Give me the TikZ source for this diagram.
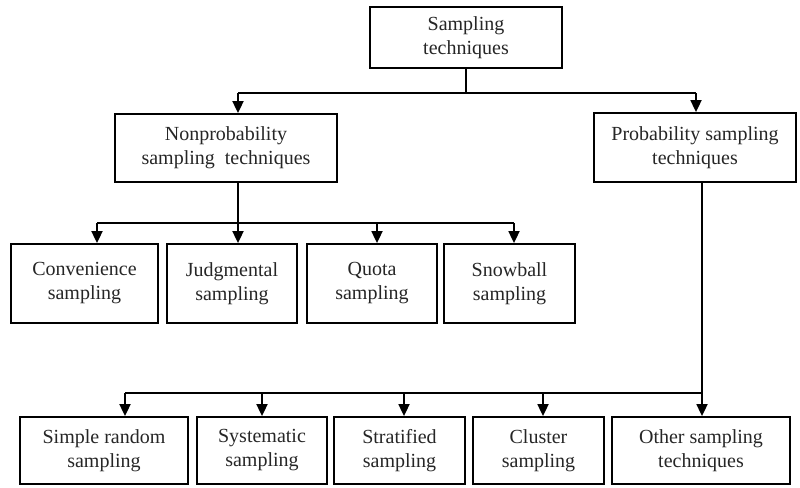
\documentclass[tikz,border=0pt]{standalone}
\usepackage{fontspec}
\setmainfont{Liberation Serif}
\usetikzlibrary{arrows.meta}
\begin{document}
\begin{tikzpicture}[x=1pt,y=-1pt,
  box/.style={draw=black, line width=1.8pt, fill=white, align=center,
    inner sep=0pt, font=\fontsize{20}{24}\selectfont, text=black!85},
  wire/.style={draw=black, line width=1.8pt},
  arr/.style={wire, -{Triangle[width=11pt,length=12pt]}}]
\useasboundingbox[fill=white] (0,0) rectangle (800,487);

% top level
\node[box, minimum width=192pt, minimum height=61pt] (top) at (466,37.5) {Sampling\\techniques};

% second level
\node[box, minimum width=222pt, minimum height=68pt] (non) at (226,148) {Nonprobability\\sampling\ \ techniques};
\node[box, minimum width=202pt, minimum height=69pt] (prob) at (695,147.5) {Probability sampling\\techniques};

% nonprobability methods
\node[box, minimum width=147pt, minimum height=79pt] (conv) at (84.5,283.5) {Convenience\\sampling};
\node[box, minimum width=130pt, minimum height=79pt] (judg) at (232,283.5) {Judgmental\\sampling};
\node[box, minimum width=130pt, minimum height=79pt] (quota) at (372,283.5) {Quota\\sampling};
\node[box, minimum width=131pt, minimum height=79pt] (snow) at (509.5,283.5) {Snowball\\sampling};

% probability methods
\node[box, minimum width=168pt, minimum height=67pt] (simple) at (104,450.5) {Simple random\\sampling};
\node[box, minimum width=130pt, minimum height=67pt] (syst) at (262,450.5) {Systematic\\sampling};
\node[box, minimum width=131pt, minimum height=67pt] (strat) at (399.5,450.5) {Stratified\\sampling};
\node[box, minimum width=131pt, minimum height=67pt] (clust) at (538.5,450.5) {Cluster\\sampling};
\node[box, minimum width=178pt, minimum height=67pt] (other) at (701,450.5) {Other sampling\\techniques};

% bus lines
\coordinate (aL) at (238,93);
\coordinate (aR) at (696,93);
\coordinate (bL) at (97,223);
\coordinate (bS) at (238,223);
\coordinate (bQ) at (377,223);
\coordinate (bR) at (514,223);
\coordinate (cL) at (125,393);
\coordinate (cS) at (262,393);
\coordinate (cT) at (404,393);
\coordinate (cC) at (543,393);
\coordinate (cR) at (702,393);

% top split
\draw[wire] (top.south) -- (top.south |- aL);
\draw[wire] (aL) -- (aR);
\draw[arr] (aL) -- (aL |- non.north);
\draw[arr] (aR) -- (aR |- prob.north);

% nonprobability split
\draw[wire] (bS |- non.south) -- (bS);
\draw[wire] (bL) -- (bR);
\draw[arr] (bL) -- (bL |- conv.north);
\draw[arr] (bS) -- (bS |- judg.north);
\draw[arr] (bQ) -- (bQ |- quota.north);
\draw[arr] (bR) -- (bR |- snow.north);

% probability split
\draw[wire] (cR |- prob.south) -- (cR);
\draw[wire] (cL) -- (cR);
\draw[arr] (cL) -- (cL |- simple.north);
\draw[arr] (cS) -- (cS |- syst.north);
\draw[arr] (cT) -- (cT |- strat.north);
\draw[arr] (cC) -- (cC |- clust.north);
\draw[arr] (cR) -- (cR |- other.north);
\end{tikzpicture}
\end{document}
